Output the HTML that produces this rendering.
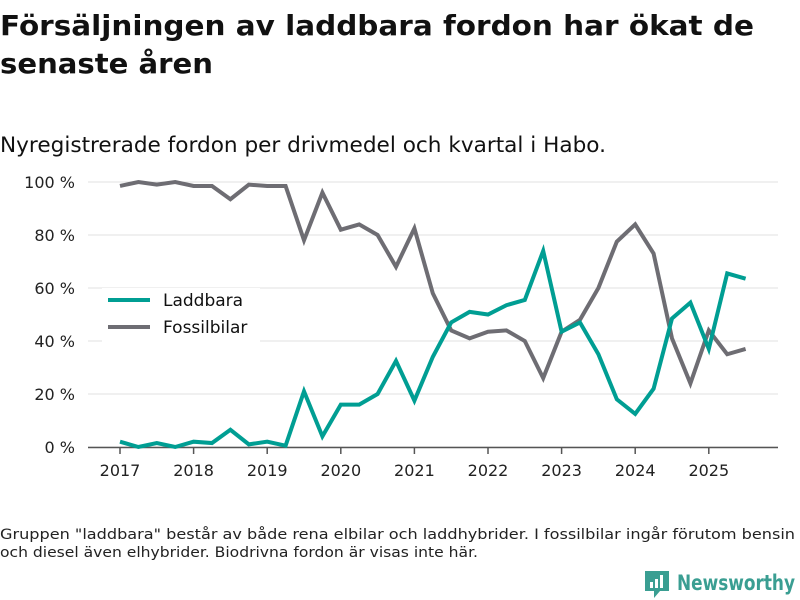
<!DOCTYPE html>
<html><head><meta charset="utf-8"><style>
body{margin:0;width:800px;height:600px;background:#fff;font-family:"DejaVu Sans",sans-serif;color:#111;position:relative;overflow:hidden}
</style></head><body>
<svg id="c" width="800" height="600" style="position:absolute;left:0;top:0" font-family="DejaVu Sans, sans-serif">
<text x="0" y="35" font-size="28" font-weight="bold" fill="#111" textLength="754" lengthAdjust="spacingAndGlyphs">Försäljningen av laddbara fordon har ökat de</text>
<text x="0" y="73" font-size="28" font-weight="bold" fill="#111" textLength="213" lengthAdjust="spacingAndGlyphs">senaste åren</text>
<text x="0" y="152" font-size="21" fill="#111" textLength="606" lengthAdjust="spacingAndGlyphs">Nyregistrerade fordon per drivmedel och kvartal i Habo.</text>
<text x="0" y="539" font-size="14" fill="#222" textLength="795" lengthAdjust="spacingAndGlyphs">Gruppen "laddbara" består av både rena elbilar och laddhybrider. I fossilbilar ingår förutom bensin</text>
<text x="0" y="557" font-size="14" fill="#222" textLength="478" lengthAdjust="spacingAndGlyphs">och diesel även elhybrider. Biodrivna fordon är visas inte här.</text>
<g>
<path d="M645 571H669V591H660L654 598V591H645Z" fill="#3a9e92"/><rect x="650" y="582" width="3" height="6" fill="#fff"/><rect x="655" y="579" width="3" height="9" fill="#fff"/><rect x="660" y="575" width="3" height="13" fill="#fff"/>
<text x="677" y="590" font-size="21" font-weight="bold" fill="#3a9e92" textLength="118" lengthAdjust="spacingAndGlyphs">Newsworthy</text>
</g>
</svg>
<script>
const years=[2017,2018,2019,2020,2021,2022,2023,2024,2025];
const yTicks=[0,20,40,60,80,100];
const laddbara=[2,0,1.5,0,2,1.5,6.5,1,2,0.5,21,4,16,16,20,32.5,17.5,34,47,51,50,53.5,55.5,74,43.5,47,35,18,12.5,22,48.5,54.5,37,65.5,63.5];
const fossil=[98.5,100,99,100,98.5,98.5,93.5,99,98.5,98.5,78,96,82,84,80,68,82.5,58,44,41,43.5,44,40,26,43.5,48,60,77.5,84,73,41,24,44,35,37];
const svg=document.getElementById('c');const NS='http://www.w3.org/2000/svg';
const x=t=>120+(t-2017)*73.6;const y=v=>447-v*2.65;
function el(n,a){const e=document.createElementNS(NS,n);for(const k in a)e.setAttribute(k,a[k]);svg.appendChild(e);return e;}
yTicks.forEach(v=>{const g=el('line',{x1:88,x2:778,y1:y(v),y2:y(v),stroke:'#e0e0e0','stroke-width':1});


const t=el('text',{x:75,y:y(v)+6,'text-anchor':'end','font-size':16,fill:'#222'});t.textContent=v+' %';

});
const ax=el('line',{x1:88,x2:778,y1:447.5,y2:447.5,stroke:'#555','stroke-width':1.5});


years.forEach(yr=>{const tk=el('line',{x1:x(yr),x2:x(yr),y1:448,y2:454,stroke:'#555','stroke-width':1.5});


const t=el('text',{x:x(yr),y:476,'text-anchor':'middle','font-size':16,fill:'#222'});t.textContent=yr;

});
function line(d,c,n){const p=el('polyline',{points:d.map((v,i)=>x(2017+i/4)+','+y(v)).join(' '),fill:'none',stroke:c,'stroke-width':4,'stroke-linejoin':'miter'});

}
line(fossil,'#6e6d73','fossilbilar-line');
line(laddbara,'#009e93','laddbara-line');
const lb=el('rect',{x:102,y:288,width:158,height:55,fill:'#fff'});


[['Laddbara','#009e93',300],['Fossilbilar','#6e6d73',327]].forEach(([n,c,yy])=>{
const l=el('line',{x1:108,x2:150,y1:yy,y2:yy,stroke:c,'stroke-width':4});


const t=el('text',{x:163,y:yy+6,'font-size':17,fill:'#111'});t.textContent=n;

});
</script>
</body></html>
